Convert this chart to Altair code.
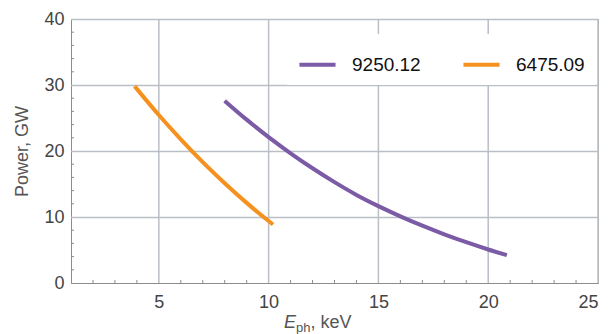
import altair as alt
import pandas as pd

# Photon energy (keV) vs. peak power (GW) for the two cases
series_names = ["9250.12", "6475.09"]
series_colors = ["#7B5AA6", "#F5911E"]

e_9250 = [8.0, 9.0, 10.0, 11.0, 12.0, 13.0, 14.0, 15.0, 16.0, 17.0, 18.0, 19.0, 20.0, 20.85]
p_9250 = [27.6, 24.75, 22.1, 19.65, 17.38, 15.28, 13.35, 11.65, 10.1, 8.68, 7.38, 6.18, 5.08, 4.23]

e_6475 = [3.9, 5.0, 6.0, 7.0, 8.0, 9.0, 10.0, 10.2]
p_6475 = [29.8, 25.45, 21.77, 18.32, 15.12, 12.14, 9.39, 8.87]

x_ticks = [5, 10, 15, 20, 25]
y_ticks = [0, 10, 20, 30, 40]
x_minor = [v for v in range(2, 25) if v % 5 != 0]
y_minor = [v for v in range(2, 40, 2) if v % 10 != 0]

W, H = 527, 264
FONT = "Liberation Sans"
GRID = "#B9BFC5"
AXIS = "#8C8C8C"

lines = pd.DataFrame({
    "E": e_9250 + e_6475,
    "P": p_9250 + p_6475,
    "series": [series_names[0]] * len(e_9250) + [series_names[1]] * len(e_6475),
})

x_scale = alt.Scale(domain=[1, 25], nice=False, zero=False)
y_scale = alt.Scale(domain=[0, 40], nice=False)

# shared axis definitions so every layer merges into the same axes
x_axis = alt.Axis(values=x_ticks, title=None, grid=False, ticks=False,
                  labelFontSize=18, labelColor="#444", labelFont=FONT,
                  labelPadding=10, domainColor=AXIS)
y_axis = alt.Axis(values=y_ticks, title="Power, GW", grid=False, ticks=False,
                  labelFontSize=18, labelColor="#444", labelFont=FONT,
                  labelPadding=7, domainColor=AXIS,
                  titleFont=FONT, titleFontSize=18, titleFontWeight="normal",
                  titleColor="#555", titleAngle=-90, titleX=-49, titleY=H / 2,
                  titleAlign="center", titleBaseline="middle")

# grid lines at the major tick values (half-pixel offset keeps horizontals crisp)
grid_v = alt.Chart(pd.DataFrame({"E": x_ticks})).mark_rule(color=GRID, strokeWidth=1.5).encode(
    x=alt.X("E:Q", scale=x_scale, axis=x_axis), y=alt.value(0), y2=alt.value(H))
grid_h = alt.Chart(pd.DataFrame({"P": y_ticks[1:]})).mark_rule(
    color=GRID, strokeWidth=1.5, yOffset=0.5
).encode(
    y=alt.Y("P:Q", scale=y_scale, axis=y_axis), x=alt.value(0), x2=alt.value(W))

curves = alt.Chart(lines).mark_line(strokeWidth=4, interpolate="monotone").encode(
    x=alt.X("E:Q", scale=x_scale, axis=x_axis),
    y=alt.Y("P:Q", scale=y_scale, axis=y_axis),
    color=alt.Color("series:N",
                    scale=alt.Scale(domain=series_names, range=series_colors),
                    sort=series_names,
                    legend=alt.Legend(title=None, orient="none", legendX=216, legendY=15,
                                      direction="horizontal", fillColor="white",
                                      padding=10, symbolType="stroke",
                                      symbolStrokeWidth=4, symbolSize=1300,
                                      labelFontSize=19, labelFont=FONT,
                                      labelColor="#111", labelOffset=14,
                                      columnPadding=34)),
)

# short inward minor ticks along the bottom and left axes
minor_x = alt.Chart(pd.DataFrame({"E": x_minor})).mark_rule(color=AXIS, strokeWidth=1).encode(
    x=alt.X("E:Q", scale=x_scale, axis=x_axis), y=alt.value(H), y2=alt.value(H - 3))

minor_y = alt.Chart(pd.DataFrame({"P": y_minor})).mark_rule(color=AXIS, strokeWidth=1).encode(
    y=alt.Y("P:Q", scale=y_scale, axis=y_axis), x=alt.value(0), x2=alt.value(3))

# x-axis title E_ph, keV built from pieces so the subscript sits lower
base_y = H + 45
title_e = alt.Chart(pd.DataFrame({"t": ["E"]})).mark_text(
    font=FONT, fontSize=18, fontStyle="italic", color="#555", align="left", baseline="alphabetic"
).encode(text="t:N", x=alt.value(213), y=alt.value(base_y))
title_sub = alt.Chart(pd.DataFrame({"t": ["ph"]})).mark_text(
    font=FONT, fontSize=13, color="#555", align="left", baseline="alphabetic"
).encode(text="t:N", x=alt.value(225), y=alt.value(base_y + 4))
title_rest = alt.Chart(pd.DataFrame({"t": [", keV"]})).mark_text(
    font=FONT, fontSize=18, color="#555", align="left", baseline="alphabetic"
).encode(text="t:N", x=alt.value(239.5), y=alt.value(base_y))

chart = alt.layer(grid_v, grid_h, curves, minor_x, minor_y,
                  title_e, title_sub, title_rest).properties(
    width=W, height=H,
    background="white",
    autosize=alt.AutoSizeParams(type="none"),
    padding={"left": 71, "top": 19, "right": 11, "bottom": 51},
).configure_view(stroke="#A9A9A9", strokeWidth=1)

chart.save("out.html", embed_options={"renderer": "svg", "actions": False})
